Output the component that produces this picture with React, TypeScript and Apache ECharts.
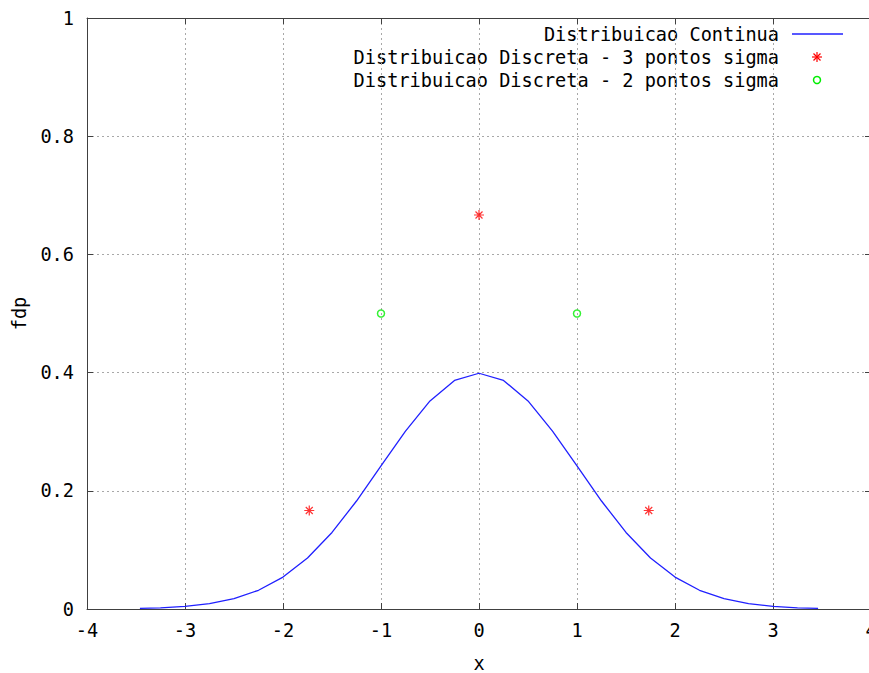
import React, { useEffect, useRef } from "react";
import * as echarts from "echarts";

const curveX = [-3.46, -3.25, -3, -2.75, -2.5, -2.25, -2, -1.75, -1.5, -1.25, -1, -0.75, -0.5, -0.25, 0, 0.25, 0.5, 0.75, 1, 1.25, 1.5, 1.75, 2, 2.25, 2.5, 2.75, 3, 3.25, 3.46];
const curveY = [0.001, 0.002, 0.0044, 0.0091, 0.0175, 0.0317, 0.054, 0.0863, 0.1295, 0.1827, 0.242, 0.3011, 0.3521, 0.3867, 0.3989, 0.3867, 0.3521, 0.3011, 0.242, 0.1827, 0.1295, 0.0863, 0.054, 0.0317, 0.0175, 0.0091, 0.0044, 0.002, 0.001];
const disc3X = [-1.732, 0, 1.732];
const disc3Y = [0.1667, 0.6667, 0.1667];
const disc2X = [-1, 1];
const disc2Y = [0.5, 0.5];
const legendNames = ["Distribuicao Continua", "Distribuicao Discreta - 3 pontos sigma", "Distribuicao Discreta - 2 pontos sigma"];

const FONT = '"DejaVu Sans Mono", monospace';
const FS = 18.6;
const STAR = "path://M0,5L10,5M5,0L5,10M1.5,1.5L8.5,8.5M8.5,1.5L1.5,8.5";

export default function App() {
  const ref = useRef<HTMLDivElement>(null);
  useEffect(() => {
    if (!ref.current) return;
    const chart = echarts.init(ref.current, null, { renderer: "svg" });
    const gridLine = { show: true, lineStyle: { color: "#a8a8a8", type: [2, 3] as any, width: 1 } };
    const axisLine = { show: true, onZero: false, lineStyle: { color: "#404040", width: 1 } };
    const tick = { show: true, inside: true, length: 6, lineStyle: { color: "#404040" } };
    const lx = 779;
    const ly = [34, 57, 80];
    const sx = 817;
    chart.setOption({
      animation: false,
      backgroundColor: "#fff",
      grid: { left: 87, top: 18, right: 29, bottom: 64, outerBoundsMode: "none", containLabel: false },
      xAxis: [
        {
          type: "value", min: -4, max: 4, interval: 1, position: "bottom",
          axisLine, axisTick: tick,
          axisLabel: { fontFamily: FONT, fontSize: FS, color: "#000", margin: 12 },
          splitLine: gridLine,
          name: "x", nameLocation: "middle", nameGap: 45,
          nameTextStyle: { fontFamily: FONT, fontSize: FS, color: "#000" },
        },
        {
          type: "value", min: -4, max: 4, interval: 1, position: "top",
          axisLine, axisTick: tick,
          axisLabel: { show: false }, splitLine: { show: false },
        },
      ],
      yAxis: [
        {
          type: "value", min: 0, max: 1, interval: 0.2, position: "left",
          axisLine, axisTick: tick,
          axisLabel: { fontFamily: FONT, fontSize: FS, color: "#000", margin: 13, formatter: (v: number) => String(Math.round(v * 10) / 10) },
          splitLine: gridLine,
          name: "fdp", nameLocation: "middle", nameGap: 58, nameRotate: 90,
          nameTextStyle: { fontFamily: FONT, fontSize: FS, color: "#000" },
        },
        {
          type: "value", min: 0, max: 1, interval: 0.2, position: "right",
          axisLine, axisTick: tick,
          axisLabel: { show: false }, splitLine: { show: false },
        },
      ],
      series: [
        {
          name: legendNames[0], type: "line", showSymbol: false,
          data: curveX.map((x, i) => [x, curveY[i]]),
          lineStyle: { color: "#2020ff", width: 1.3 },
        },
        {
          name: legendNames[1], type: "scatter", symbol: STAR, symbolSize: 10,
          data: disc3X.map((x, i) => [x, disc3Y[i]]),
          itemStyle: { color: "transparent", borderColor: "#ff0000", borderWidth: 1.2 },
        },
        {
          name: legendNames[2], type: "scatter", symbol: "circle", symbolSize: 7,
          data: disc2X.map((x, i) => [x, disc2Y[i]]),
          itemStyle: { color: "transparent", borderColor: "#00ee00", borderWidth: 1.5 },
        },
      ],
      graphic: [
        ...legendNames.map((n, i) => ({
          type: "text", x: lx, y: ly[i],
          style: { text: n, align: "right", verticalAlign: "middle", font: `${FS}px ${FONT}`, fill: "#000" },
        })),
        { type: "line", shape: { x1: 792, y1: ly[0], x2: 843, y2: ly[0] }, style: { stroke: "#2020ff", lineWidth: 1.3 } },
        { type: "line", shape: { x1: sx - 5, y1: ly[1], x2: sx + 5, y2: ly[1] }, style: { stroke: "#ff0000", lineWidth: 1.2 } },
        { type: "line", shape: { x1: sx, y1: ly[1] - 5, x2: sx, y2: ly[1] + 5 }, style: { stroke: "#ff0000", lineWidth: 1.2 } },
        { type: "line", shape: { x1: sx - 3.5, y1: ly[1] - 3.5, x2: sx + 3.5, y2: ly[1] + 3.5 }, style: { stroke: "#ff0000", lineWidth: 1.2 } },
        { type: "line", shape: { x1: sx + 3.5, y1: ly[1] - 3.5, x2: sx - 3.5, y2: ly[1] + 3.5 }, style: { stroke: "#ff0000", lineWidth: 1.2 } },
        { type: "circle", shape: { cx: sx, cy: ly[2], r: 3.5 }, style: { fill: "none", stroke: "#00ee00", lineWidth: 1.5 } },
      ],
    });
    return () => chart.dispose();
  }, []);
  return <div ref={ref} style={{ position: "fixed", left: 0, top: 0, width: 900, height: 673 }} />;
}
